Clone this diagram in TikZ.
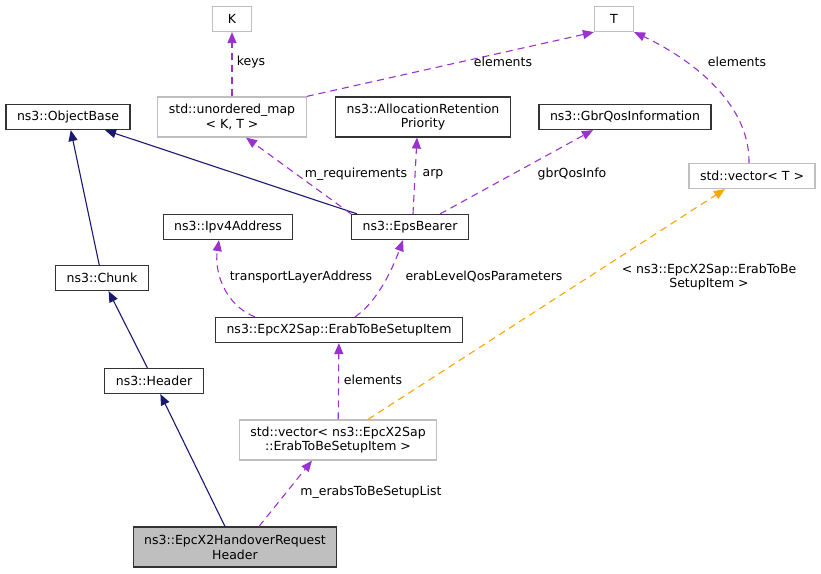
\documentclass[tikz,border=0pt]{standalone}
\usepackage{fontspec}
\setmainfont{DejaVu Sans}
\usetikzlibrary{arrows.meta}
\definecolor{edgeblue}{HTML}{191970}
\definecolor{edgepurple}{HTML}{9A32CD}
\definecolor{edgeorange}{HTML}{FFA500}
\definecolor{boxgray}{HTML}{BFBFBF}
\begin{document}
\begin{tikzpicture}[x=1pt,y=-1pt]
\tikzstyle{cls} 	= [draw = black!80, line width = 1.2pt, rectangle, minimum height = 25pt, inner xsep = 11pt, inner ysep = 4pt, align = center, font = \fontsize{12.5}{14.7}\selectfont] % documented class
\tikzstyle{tmpl} 	= [cls, draw = boxgray] % template or undocumented class
\tikzstyle{inh} 	= [line width = 1.1pt, color = edgeblue, -{Triangle[length=11pt, width=9pt]}] % inheritance
\tikzstyle{usage} 	= [line width = 1.1pt, color = edgepurple, dash pattern = on 7pt off 5pt, -{Triangle[length=11pt, width=9pt]}] % member usage
\tikzstyle{inst} 	= [usage, color = edgeorange] % template instance
\tikzstyle{lbl} 	= [font = \fontsize{12.5}{14.7}\selectfont, align = center, text = black, inner sep = 0pt]

\useasboundingbox (0,0) rectangle (821,573);

% classes
\node(K)[tmpl, minimum width = 39pt] at (232,19){K};
\node(T)[tmpl, minimum width = 39pt] at (614,19){T};
\node(UMap)[tmpl, minimum height = 40pt] at (232,117){std::unordered\_map\\< K, T >};
\node(OB)[cls] at (68,117){ns3::ObjectBase};
\node(ARP)[cls, minimum height = 40pt] at (423,117){ns3::AllocationRetention\\Priority};
\node(Gbr)[cls] at (625,117){ns3::GbrQosInformation};
\node(VecT)[tmpl] at (752,176){std::vector< T >};
\node(Ipv4)[cls] at (228,227){ns3::Ipv4Address};
\node(EB)[cls] at (410,227){ns3::EpsBearer};
\node(Chunk)[cls] at (102,278){ns3::Chunk};
\node(Item)[cls] at (339,330){ns3::EpcX2Sap::ErabToBeSetupItem};
\node(Hdr)[cls] at (154,381){ns3::Header};
\node(VecItem)[tmpl, minimum height = 40pt] at (338,440){std::vector< ns3::EpcX2Sap\\::ErabToBeSetupItem >};
\node(HRH)[cls, fill = boxgray, minimum height = 40pt] at (235,547){ns3::EpcX2HandoverRequest\\Header};

% inheritance
\draw[inh](Chunk)--(OB);
\draw[inh](Hdr)--(Chunk);
\draw[inh](HRH)--(Hdr);
\draw[inh]([xshift=6pt]EB.north west)--([xshift=37pt]OB.south);

% usage
\draw[usage](UMap)--(K) node[lbl] at (251,62){keys};
\draw[usage](UMap.north east)--(T.south west) node[lbl] at (503,62){elements};
\draw[usage]([xshift=-3pt]VecT.north) .. controls (750,100) and (685,56) .. (T.south east) node[lbl] at (737,62){elements};
\draw[usage](EB.north west)--([xshift=14pt]UMap.south) node[lbl] at (356,174){m\_requirements};
\draw[usage]([xshift=3pt]EB.north)--([xshift=-6pt]ARP.south) node[lbl] at (433,174){arp};
\draw[usage]([xshift=30pt]EB.north)--([xshift=-32pt]Gbr.south) node[lbl] at (572,174){gbrQosInfo};
\draw[usage]([xshift=-84pt]Item.north) .. controls (225,305) and (214,272) .. ([xshift=-9pt]Ipv4.south) node[lbl] at (301,277){transportLayerAddress};
\draw[usage]([xshift=16pt]Item.north) .. controls (380,300) and (395,262) .. ([xshift=-7pt]EB.south) node[lbl] at (484,277){erabLevelQosParameters};
\draw[usage](VecItem)--(Item) node[lbl] at (373,380){elements};
\draw[inst]([xshift=30pt]VecItem.north)--([xshift=-27pt]VecT.south) node[lbl] at (709,277){< ns3::EpcX2Sap::ErabToBe\\SetupItem >};
\draw[usage]([xshift=24pt]HRH.north)--([xshift=-26pt]VecItem.south) node[lbl] at (371,492){m\_erabsToBeSetupList};
\end{tikzpicture}
\end{document}
